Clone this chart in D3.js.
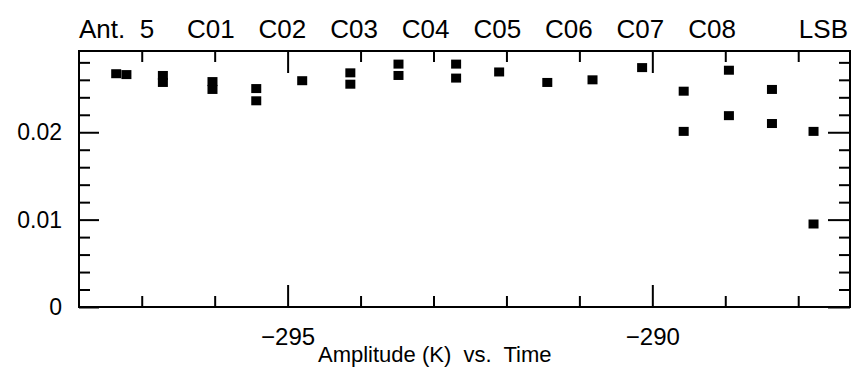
<!DOCTYPE html>
<html>
<head>
<meta charset="utf-8">
<script src="https://cdn.jsdelivr.net/npm/d3@7"></script>
<style>
  body { margin: 0; background: #fff; }
  text { font-family: "Liberation Sans", Arial, sans-serif; fill: #000; white-space: pre; }
</style>
</head>
<body>
<div id="chart"></div>
<script>
// labels along the top of the plot
const topLabels = ["Ant.  5", "C01", "C02", "C03", "C04", "C05", "C06", "C07", "C08"];
const sideLabel = "LSB";
const titleText = "Amplitude (K)  vs.  Time";

// one entry per plotted point (time, amplitude)
const pointTime = [-297.35, -297.21, -296.71, -296.71, -296.03, -296.03, -295.43, -295.43,
                   -294.80, -294.14, -294.14, -293.48, -293.48, -292.69, -292.69, -292.10,
                   -291.44, -290.82, -290.14, -289.57, -289.57, -288.95, -288.95, -288.36,
                   -288.36, -287.79, -287.79];
const pointAmp = [0.0267, 0.0266, 0.0265, 0.0257, 0.0258, 0.0249, 0.0250, 0.0236,
                  0.0259, 0.0268, 0.0255, 0.0278, 0.0265, 0.0278, 0.0262, 0.0269,
                  0.0257, 0.0260, 0.0274, 0.0247, 0.0201, 0.0271, 0.0219, 0.0249,
                  0.0210, 0.0201, 0.0095];

// tick values
const xMajorTicks = [-295, -290];
const xMinorTicks = [-297, -296, -294, -293, -292, -291, -289, -288];
const yMajorTicks = [0, 0.01, 0.02];
const yMinorTicks = [0.002, 0.004, 0.006, 0.008, 0.012, 0.014, 0.016, 0.018,
                     0.022, 0.024, 0.026, 0.028];

const width = 851, height = 370;
const plotLeft = 79, plotRight = 850, plotTop = 51, plotBottom = 307;

const svg = d3.select("#chart").append("svg")
    .attr("width", width)
    .attr("height", height)
    .style("background-color", "#fff");

const x = d3.scaleLinear().domain([-297.86, -287.29]).range([plotLeft, plotRight]);
const y = d3.scaleLinear().domain([0, 0.0293]).range([plotBottom, plotTop]);

// helper: draw an axis, drop its domain line, style ticks
function drawAxis(axis, tx, ty, fontSize) {
    const g = svg.append("g")
        .attr("transform", `translate(${tx},${ty})`)
        .call(axis);
    g.select(".domain").remove();
    g.selectAll("line").attr("stroke", "#000").attr("stroke-width", 2);
    g.attr("font-family", "\"Liberation Sans\", Arial, sans-serif")
        .attr("font-size", fontSize || 10);
    g.selectAll("text").attr("fill", "#000");
    return g;
}

const noLabel = () => "";

// bottom axis
drawAxis(d3.axisBottom(x).tickValues(xMinorTicks).tickSizeInner(-11).tickSizeOuter(0).tickFormat(noLabel), 0, plotBottom);
drawAxis(d3.axisBottom(x).tickValues(xMajorTicks).tickSizeInner(-22).tickSizeOuter(0).tickPadding(21)
    .tickFormat(d => "\u2212" + Math.abs(d)), 0, plotBottom, 24);

// top axis (mirror ticks)
drawAxis(d3.axisTop(x).tickValues(xMinorTicks).tickSizeInner(-11).tickSizeOuter(0).tickFormat(noLabel), 0, plotTop);
drawAxis(d3.axisTop(x).tickValues(xMajorTicks).tickSizeInner(-22).tickSizeOuter(0).tickFormat(noLabel), 0, plotTop);

// left axis
drawAxis(d3.axisLeft(y).tickValues(yMinorTicks).tickSizeInner(-11).tickSizeOuter(0).tickFormat(noLabel), plotLeft, 0);
drawAxis(d3.axisLeft(y).tickValues(yMajorTicks).tickSizeInner(-20).tickSizeOuter(0).tickPadding(17)
    .tickFormat(d => d === 0 ? "0" : d3.format(".2f")(d)), plotLeft, 0, 23);

// right axis (mirror ticks)
drawAxis(d3.axisRight(y).tickValues(yMinorTicks).tickSizeInner(-11).tickSizeOuter(0).tickFormat(noLabel), plotRight, 0);
drawAxis(d3.axisRight(y).tickValues(yMajorTicks).tickSizeInner(-22).tickSizeOuter(0).tickFormat(noLabel), plotRight, 0);

// frame
svg.append("rect")
    .attr("x", plotLeft)
    .attr("y", plotTop)
    .attr("width", plotRight - plotLeft)
    .attr("height", plotBottom - plotTop)
    .attr("fill", "none")
    .attr("stroke", "#000")
    .attr("stroke-width", 2);

// points
const points = pointTime.map((t, i) => ({ t: t, a: pointAmp[i] }));
svg.append("g")
    .selectAll("rect")
    .data(points)
    .enter().append("rect")
    .attr("x", d => x(d.t) - 5)
    .attr("y", d => y(d.a) - 4.5)
    .attr("width", 10)
    .attr("height", 9)
    .attr("fill", "#000");

// top labels
svg.append("g")
    .selectAll("text")
    .data(topLabels)
    .enter().append("text")
    .attr("x", (d, i) => i === 0 ? 79 : 187 + (i - 1) * 71.6)
    .attr("y", 38)
    .attr("font-size", 26)
    .text(d => d);

svg.append("text")
    .attr("x", 848)
    .attr("y", 38)
    .attr("text-anchor", "end")
    .attr("font-size", 26)
    .text(sideLabel);

// bottom title
svg.append("text")
    .attr("x", 318)
    .attr("y", 362)
    .attr("font-size", 22)
    .text(titleText);
</script>
</body>
</html>
